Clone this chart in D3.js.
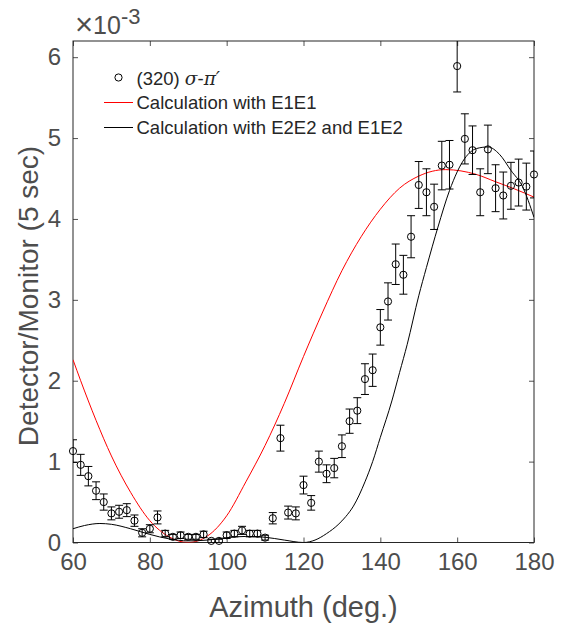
<!DOCTYPE html>
<html>
<head>
<meta charset="utf-8">
<script src="https://cdn.jsdelivr.net/npm/d3@7"></script>
<style>
    body { margin: 0; background: #fff; }
    svg { display: block; font-family: "Liberation Sans", Arial, Helvetica, sans-serif; }
</style>
</head>
<body>
<svg id="chart" width="568" height="627"></svg>
<script>
// measured points, (320) sigma-pi', values in units of 1e-3
const azimuth = [60, 62, 64, 66, 68, 70, 72, 74, 76, 78, 80, 82, 84, 86, 88, 90, 92, 94, 96, 98,
    100, 102, 104, 106, 108, 110, 112, 114, 116, 118, 120, 122, 124, 126, 128, 130, 132, 134, 136, 138,
    140, 142, 144, 146, 148, 150, 152, 154, 156, 158, 160, 162, 164, 166, 168, 170, 172, 174, 176, 178, 180];
const counts = [1.13, 0.96, 0.82, 0.64, 0.50, 0.36, 0.38, 0.40, 0.27, 0.12, 0.17, 0.31, 0.11, 0.07, 0.09, 0.07, 0.07, 0.10, 0.02, 0.02,
    0.09, 0.11, 0.15, 0.11, 0.11, 0.06, 0.30, 1.29, 0.37, 0.36, 0.71, 0.49, 1.00, 0.85, 0.92, 1.19, 1.50, 1.63, 2.02, 2.13,
    2.66, 2.98, 3.44, 3.31, 3.78, 4.42, 4.33, 4.15, 4.66, 4.67, 5.89, 4.99, 4.85, 4.33, 4.86, 4.38, 4.29, 4.41, 4.45, 4.40, 4.55];
const errors = [0.14, 0.13, 0.12, 0.11, 0.10, 0.08, 0.08, 0.08, 0.07, 0.05, 0.05, 0.08, 0.04, 0.03, 0.04, 0.03, 0.03, 0.04, 0.02, 0.02,
    0.04, 0.04, 0.05, 0.04, 0.04, 0.03, 0.07, 0.16, 0.08, 0.08, 0.11, 0.09, 0.13, 0.11, 0.12, 0.14, 0.15, 0.16, 0.19, 0.20,
    0.22, 0.23, 0.25, 0.24, 0.26, 0.29, 0.29, 0.28, 0.30, 0.30, 0.32, 0.31, 0.30, 0.29, 0.30, 0.29, 0.29, 0.29, 0.29, 0.29, 0.29];

// calculation E1E1 (red)
const e1Deg = [60, 62, 66, 70, 75, 80, 85, 90, 95, 100, 105, 110, 115, 120, 125, 130, 135, 140, 145, 150, 157, 165, 170, 175, 180];
const e1Val = [2.26, 2.0, 1.51, 1.07, 0.62, 0.27, 0.07, 0.0, 0.08, 0.33, 0.75, 1.2, 1.72, 2.3, 2.85, 3.36, 3.78, 4.12, 4.38, 4.53, 4.61, 4.55, 4.46, 4.37, 4.27];

// calculation E2E2 + E1E2 (black)
const e2Deg = [60, 63, 67, 70, 75, 80, 85, 90, 95, 100, 105, 110, 115, 120, 123, 126, 129, 131, 133, 136, 138, 140,
    143, 145, 147, 150, 152, 155, 158, 162, 165, 168, 171, 174, 177, 180];
const e2Val = [0.17, 0.21, 0.235, 0.225, 0.17, 0.1, 0.045, 0.02, 0.03, 0.06, 0.075, 0.065, 0.03, 0.0, 0.03, 0.11, 0.22, 0.32, 0.45, 0.75, 1.0, 1.3,
    1.75, 2.1, 2.45, 3.05, 3.4, 3.9, 4.35, 4.75, 4.87, 4.89, 4.8, 4.6, 4.4, 4.02];

const xTicks = [60, 80, 100, 120, 140, 160, 180];
const yTicks = [0, 1, 2, 3, 4, 5, 6];

const legendLabels = ["(320) ", "Calculation with E1E1", "Calculation with E2E2 and E1E2"];

const axisColor = "#262626";
const textColor = "#4d4d4d";

let svg = d3.select("#chart");

// plot box
const box = { left: 73, right: 534, top: 41, bottom: 542.5 };

let x = d3.scaleLinear().domain([60, 180]).range([box.left, box.right]);
let y = d3.scaleLinear().domain([0, 6.2]).range([box.bottom, box.top]);

svg.append("defs").append("clipPath").attr("id", "plotclip")
    .append("rect")
    .attr("x", box.left).attr("y", box.top)
    .attr("width", box.right - box.left).attr("height", box.bottom - box.top);

// axes (ticks inward, box on)
function styleAxis(g) {
    g.select(".domain").remove();
    g.selectAll(".tick line").attr("stroke", axisColor).attr("stroke-width", 0.8);
    g.selectAll(".tick text").attr("fill", textColor).attr("font-size", 24)
        .attr("font-family", "Liberation Sans, Arial, sans-serif");
}

svg.append("g")
    .attr("transform", `translate(0,${box.bottom})`)
    .call(d3.axisBottom(x).tickValues(xTicks).tickSize(-5).tickPadding(10).tickFormat(d3.format("d")))
    .call(styleAxis)
    .selectAll(".tick text").attr("dy", "0.71em");

svg.append("g")
    .attr("transform", `translate(0,${box.top})`)
    .call(d3.axisTop(x).tickValues(xTicks).tickSize(-5).tickFormat(""))
    .call(styleAxis);

svg.append("g")
    .attr("transform", `translate(${box.left},0)`)
    .call(d3.axisLeft(y).tickValues(yTicks).tickSize(-5).tickPadding(12).tickFormat(d3.format("d")))
    .call(styleAxis);

svg.append("g")
    .attr("transform", `translate(${box.right},0)`)
    .call(d3.axisRight(y).tickValues(yTicks).tickSize(-5).tickFormat(""))
    .call(styleAxis);

svg.append("rect")
    .attr("x", box.left).attr("y", box.top)
    .attr("width", box.right - box.left).attr("height", box.bottom - box.top)
    .attr("fill", "none").attr("stroke", axisColor).attr("stroke-width", 1);

// exponent label
let expo = svg.append("text")
    .attr("x", box.left + 2).attr("y", 34)
    .attr("fill", textColor).attr("font-size", 25);
expo.append("tspan").attr("font-size", 31).attr("dy", 1).text("\u00d7");
expo.append("tspan").attr("dy", -1).text("10");
expo.append("tspan").attr("font-size", 22).attr("dy", -10).text("-3");

// axis titles
svg.append("text")
    .attr("x", (box.left + box.right) / 2).attr("y", 617)
    .attr("text-anchor", "middle")
    .attr("fill", textColor).attr("font-size", 29)
    .text("Azimuth (deg.)");

svg.append("text")
    .attr("transform", `translate(38,296) rotate(-90)`)
    .attr("text-anchor", "middle")
    .attr("fill", textColor).attr("font-size", 28)
    .text("Detector/Monitor (5 sec)");

// curves
let plot = svg.append("g").attr("clip-path", "url(#plotclip)");

let line = d3.line()
    .x((d) => x(d[0]))
    .y((d) => y(d[1]))
    .curve(d3.curveMonotoneX);

plot.append("path")
    .datum(d3.zip(e1Deg, e1Val))
    .attr("d", line)
    .attr("fill", "none").attr("stroke", "#ff0000").attr("stroke-width", 1);

plot.append("path")
    .datum(d3.zip(e2Deg, e2Val))
    .attr("d", line)
    .attr("fill", "none").attr("stroke", "#000").attr("stroke-width", 1);

// error bars + markers
let points = d3.range(azimuth.length).map((i) => ({ a: azimuth[i], v: counts[i], e: errors[i] }));
const cap = 4;

let bars = plot.append("g").attr("class", "errorbars")
    .selectAll("g")
    .data(points)
    .enter().append("g")
    .attr("stroke", "#000").attr("stroke-width", 1);

bars.append("line")
    .attr("x1", (d) => x(d.a)).attr("x2", (d) => x(d.a))
    .attr("y1", (d) => y(d.v - d.e)).attr("y2", (d) => y(d.v + d.e));
bars.append("line")
    .attr("x1", (d) => x(d.a) - cap).attr("x2", (d) => x(d.a) + cap)
    .attr("y1", (d) => y(d.v + d.e)).attr("y2", (d) => y(d.v + d.e));
bars.append("line")
    .attr("x1", (d) => x(d.a) - cap).attr("x2", (d) => x(d.a) + cap)
    .attr("y1", (d) => y(d.v - d.e)).attr("y2", (d) => y(d.v - d.e));

svg.append("g").attr("class", "markers")
    .selectAll("circle")
    .data(points)
    .enter().append("circle")
    .attr("cx", (d) => x(d.a))
    .attr("cy", (d) => y(d.v))
    .attr("r", 3.6)
    .attr("fill", "none").attr("stroke", "#000").attr("stroke-width", 1);

// legend
let legend = svg.append("g").attr("font-size", 18.5).attr("fill", "#262626");

legend.append("circle")
    .attr("cx", 118.5).attr("cy", 77.5).attr("r", 3.6)
    .attr("fill", "none").attr("stroke", "#000").attr("stroke-width", 1);

let l0 = legend.append("text").attr("x", 136.5).attr("y", 84.5);
l0.append("tspan").text(legendLabels[0]);
l0.append("tspan").attr("font-family", "DejaVu Serif, serif").attr("font-style", "italic").text("\u03c3");
l0.append("tspan").text("-");
l0.append("tspan").attr("font-family", "DejaVu Serif, serif").attr("font-style", "italic").text("\u03c0\u2032");

legend.append("line")
    .attr("x1", 104).attr("x2", 133).attr("y1", 102.5).attr("y2", 102.5)
    .attr("stroke", "#ff0000").attr("stroke-width", 1);
legend.append("text").attr("x", 136.5).attr("y", 109).text(legendLabels[1]);

legend.append("line")
    .attr("x1", 104).attr("x2", 133).attr("y1", 127.5).attr("y2", 127.5)
    .attr("stroke", "#000").attr("stroke-width", 1);
legend.append("text").attr("x", 136.5).attr("y", 134).text(legendLabels[2]);
</script>
</body>
</html>
